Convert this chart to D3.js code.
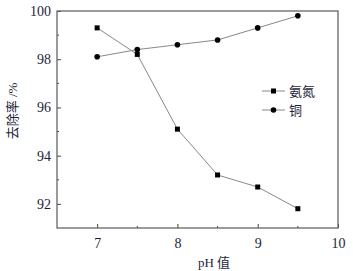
<!DOCTYPE html>
<html>
<head>
<meta charset="utf-8">
<script src="https://cdn.jsdelivr.net/npm/d3@7"></script>
<style>
  body { margin: 0; background: #fff; }
  text { font-family: "Liberation Serif", "Noto Sans CJK SC", serif; fill: #1e1e38; }
</style>
</head>
<body>
<div id="chart-container" style="width:353px;height:271px"></div>
<script>
const phValues = [7, 7.5, 8, 8.5, 9, 9.5];
const ammoniaValues = [99.3, 98.2, 95.1, 93.2, 92.7, 91.8];
const copperValues = [98.1, 98.4, 98.6, 98.8, 99.3, 99.8];
const xTicks = [7, 8, 9, 10];
const yTicks = [92, 94, 96, 98, 100];
const seriesNames = ["氨氮", "铜"];

(function() {
  const width = 353, height = 271;
  const margin = { top: 11, right: 15, bottom: 43, left: 57 };
  const innerWidth = width - margin.left - margin.right;
  const innerHeight = height - margin.top - margin.bottom;

  const svg = d3.select('#chart-container').append("svg")
    .attr("width", width).attr("height", height);
  const g = svg.append("g").attr("transform", `translate(${margin.left},${margin.top})`);

  const x = d3.scaleLinear().domain([6.5, 10]).range([0, innerWidth]);
  const y = d3.scaleLinear().domain([91, 100]).range([innerHeight, 0]);

  // minor ticks
  g.selectAll(".xminor").data([7.5, 8.5, 9.5]).enter().append("line")
    .attr("x1", d => x(d)).attr("x2", d => x(d))
    .attr("y1", innerHeight).attr("y2", innerHeight - 2)
    .attr("stroke", "#444");
  g.selectAll(".yminor").data([93, 95, 97, 99]).enter().append("line")
    .attr("x1", 0).attr("x2", 2)
    .attr("y1", d => y(d)).attr("y2", d => y(d))
    .attr("stroke", "#444");

  const xAxis = g.append("g").attr("transform", `translate(0,${innerHeight})`)
    .call(d3.axisBottom(x).tickValues(xTicks).tickSize(-4).tickPadding(10).tickFormat(d3.format("d")));
  const yAxis = g.append("g")
    .call(d3.axisLeft(y).tickValues(yTicks).tickSize(-4).tickPadding(6).tickFormat(d3.format("d")));
  [xAxis, yAxis].forEach(a => {
    a.select(".domain").remove();
    a.selectAll("line").attr("stroke", "#444");
    a.selectAll("text").style("font-size", "14px").attr("fill", "#1e1e38");
  });

  g.append("rect").attr("width", innerWidth).attr("height", innerHeight)
    .attr("fill", "none").attr("stroke", "#666").attr("stroke-width", 1.3);

  const line = d3.line().x((d, i) => x(phValues[i])).y(d => y(d));

  g.append("path").datum(ammoniaValues).attr("d", line)
    .attr("fill", "none").attr("stroke", "#888").attr("stroke-width", 1);
  g.append("path").datum(copperValues).attr("d", line)
    .attr("fill", "none").attr("stroke", "#888").attr("stroke-width", 1);

  g.selectAll(".sq").data(ammoniaValues).enter().append("rect")
    .attr("x", (d, i) => x(phValues[i]) - 2.5).attr("y", d => y(d) - 2.5)
    .attr("width", 5).attr("height", 5).attr("fill", "#000");
  g.selectAll(".ci").data(copperValues).enter().append("circle")
    .attr("cx", (d, i) => x(phValues[i])).attr("cy", d => y(d))
    .attr("r", 2.8).attr("fill", "#000");

  // legend
  const legend = g.append("g").attr("transform", `translate(${262 - margin.left},${91 - margin.top})`);
  seriesNames.forEach((name, i) => {
    const row = legend.append("g").attr("transform", `translate(0,${i * 19})`);
    row.append("line").attr("x1", 0).attr("x2", 23).attr("y1", 0).attr("y2", 0)
      .attr("stroke", "#888");
    if (i === 0) row.append("rect").attr("x", 9).attr("y", -2.5).attr("width", 5).attr("height", 5).attr("fill", "#000");
    else row.append("circle").attr("cx", 11.5).attr("cy", 0).attr("r", 2.8).attr("fill", "#000");
    row.append("text").attr("x", 27).attr("y", 5).style("font-size", "13px").text(name);
  });

  svg.append("text").attr("x", 214).attr("y", 267)
    .attr("text-anchor", "middle").style("font-size", "13px").text("pH 值");

  svg.append("text")
    .attr("transform", `translate(17,${111}) rotate(-90)`)
    .attr("text-anchor", "middle").style("font-size", "13px")
    .text("去除率 /%");
})();
</script>
</body>
</html>
